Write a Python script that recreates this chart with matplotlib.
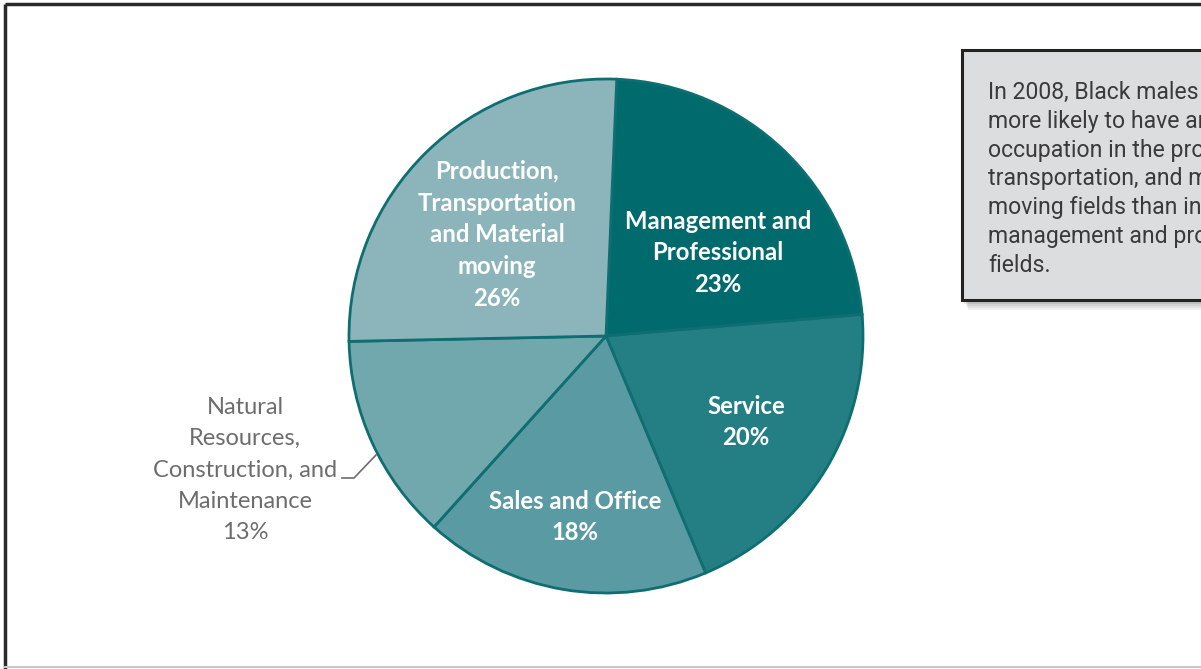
import matplotlib
matplotlib.use("Agg")
import matplotlib.pyplot as plt
from matplotlib.patches import Rectangle

categories = ["Management and\nProfessional", "Service", "Sales and Office",
              "Natural\nResources,\nConstruction, and\nMaintenance",
              "Production,\nTransportation\nand Material\nmoving"]
values = [23, 20, 18, 13, 26]
colors = ["#006A6D", "#237F83", "#5A9AA2", "#71A8AD", "#8BB5BA"]
note = ("In 2008, Black males were\nmore likely to have an\noccupation in the production,\n"
        "transportation, and material\nmoving fields than in\nmanagement and professional\nfields.")

W, H = 1201, 669
fig = plt.figure(figsize=(W / 100, H / 100), dpi=100)
ax = fig.add_axes([0, 0, 1, 1])

cx, cy, r = 606, H - 336, 257
wedges, _ = ax.pie(values, colors=colors, startangle=87.6, counterclock=False,
                   center=(cx, cy), radius=r, frame=True,
                   wedgeprops=dict(edgecolor="#0E6E72", linewidth=2))
ax.set_xlim(0, W)
ax.set_ylim(0, H)
ax.set_aspect("equal")
ax.axis("off")

bold = dict(family=["Lato", "DejaVu Sans"], fontweight="bold", fontsize=17.2,
            color="white", ha="center", va="center", linespacing=1.47)
# label positions (pixel centre of text block)
pos = [(718, 253), (746, 422), (575, 517), None, (497, 235)]
for i, (cat, v) in enumerate(zip(categories, values)):
    if pos[i] is None:
        continue
    x, y = pos[i]
    ax.text(x, H - y, f"{cat}\n{v}%", **bold)

# outside label for Natural Resources
ax.text(245, H - 470, f"{categories[3]}\n{values[3]}%", family=["Lato", "DejaVu Sans"],
        fontsize=17, color="#6D6D6D", ha="center", va="center", linespacing=1.6)
ax.plot([342, 354, 376], [H - 478, H - 478, H - 455], color="#6D6D6D", lw=1.2)

# note box with shadow
for k, a in enumerate([0.06, 0.06, 0.07, 0.08, 0.09]):
    off = 10 - 2 * k
    ax.add_patch(Rectangle((962 + off * 0.6, H - 300 - off), 400, 250,
                           facecolor="black", alpha=a, edgecolor="none", zorder=3))
ax.add_patch(Rectangle((962, H - 300), 400, 250, facecolor="#DCDDDF",
                       edgecolor="#222222", lw=2.2, zorder=4))
ax.text(988, H - 81, note, family=["Roboto", "DejaVu Sans"], fontweight="normal",
        fontsize=16.6, color="#3A3A3A", ha="left", va="top", linespacing=1.32,
        zorder=5, clip_on=True)

# figure frame
ax.plot([5, W], [H - 4, H - 4], color="#2A2A2A", lw=2.5, solid_capstyle="butt", zorder=6)
ax.plot([5, 5], [H - 4, 0], color="#2A2A2A", lw=2.5, solid_capstyle="butt", zorder=6)
ax.plot([5, W], [2, 2], color="#C8C8C8", lw=1.5, zorder=6)

fig.savefig("out.png", dpi=100)
